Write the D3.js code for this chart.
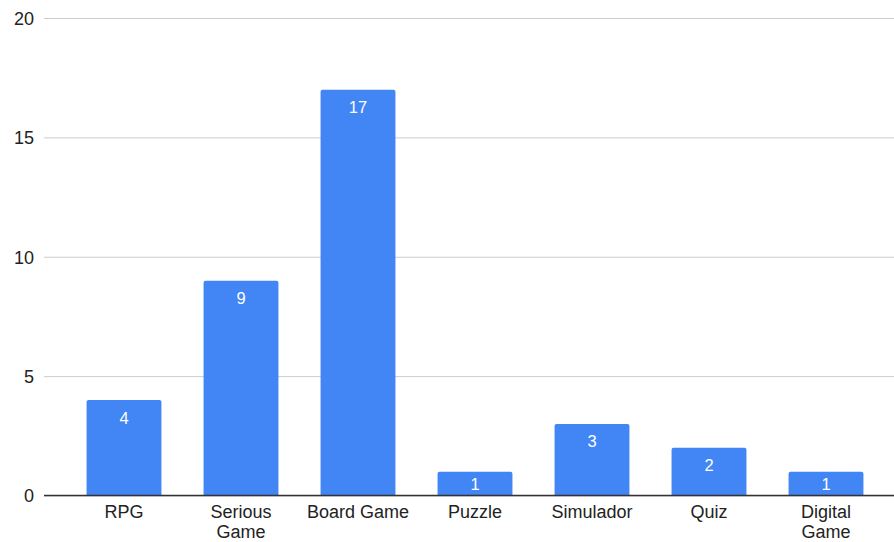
<!DOCTYPE html>
<html>
<head>
<meta charset="utf-8">
<script src="https://cdn.jsdelivr.net/npm/d3@7"></script>
<style>
  html, body { margin: 0; padding: 0; background: #fff; }
  svg { display: block; font-family: "Liberation Sans", Arial, sans-serif; }
</style>
</head>
<body>
<svg id="chart" width="894" height="542"></svg>
<script>
const categories = ["RPG", "Serious Game", "Board Game", "Puzzle", "Simulador", "Quiz", "Digital Game"];
const values = [4, 9, 17, 1, 3, 2, 1];
const yTicks = [0, 5, 10, 15, 20];

const svg = d3.select("#chart");
const gridLeft = 44, gridRight = 894;

const x = d3.scaleBand()
  .domain(categories)
  .range([65.5, 884.5])
  .paddingInner(0.36)
  .paddingOuter(0.18);

const y = d3.scaleLinear().domain([0, 20]).range([495.5, 18]);

// horizontal gridlines and y labels
const yAxis = d3.axisLeft(y)
  .tickValues(yTicks)
  .tickSize(-(gridRight - gridLeft))
  .tickPadding(10)
  .tickFormat(d3.format("d"));

const gy = svg.append("g")
  .attr("transform", `translate(${gridLeft},0)`)
  .call(yAxis);
gy.select(".domain").remove();
gy.selectAll(".tick line").attr("stroke", "#cccccc").attr("stroke-width", 1);
gy.selectAll(".tick text")
  .attr("fill", "#222")
  .style("font-size", "18px")
  .attr("dy", "0.35em");

// bars with slightly rounded top corners
const r = 2;
function barPath(d, i) {
  const x0 = x(categories[i]), w = x.bandwidth();
  const yt = y(d), yb = y(0);
  return `M${x0},${yb}V${yt + r}Q${x0},${yt} ${x0 + r},${yt}H${x0 + w - r}Q${x0 + w},${yt} ${x0 + w},${yt + r}V${yb}Z`;
}
svg.append("g").selectAll("path")
  .data(values)
  .join("path")
  .attr("d", barPath)
  .attr("fill", "#4285f4");

// value labels inside bars; short bars keep the label above the baseline
svg.append("g").selectAll("text")
  .data(values)
  .join("text")
  .attr("x", (d, i) => x(categories[i]) + x.bandwidth() / 2)
  .attr("y", d => Math.min(y(d) + 23.5, y(0) - 5.5))
  .attr("text-anchor", "middle")
  .attr("fill", "#ffffff")
  .style("font-size", "16.5px")
  .text(d => d);

// baseline
svg.append("line")
  .attr("x1", gridLeft).attr("x2", gridRight)
  .attr("y1", y(0)).attr("y2", y(0))
  .attr("stroke", "#333").attr("stroke-width", 1.3);

// category labels, wrapped to two lines where needed
const wrapped = {"Serious Game": ["Serious", "Game"], "Digital Game": ["Digital", "Game"]};
const xl = svg.append("g").selectAll("text")
  .data(categories)
  .join("text")
  .attr("x", d => x(d) + x.bandwidth() / 2)
  .attr("y", 518)
  .attr("text-anchor", "middle")
  .attr("fill", "#222")
  .style("font-size", "18px");
xl.each(function(d) {
  const lines = wrapped[d] || [d];
  const t = d3.select(this);
  lines.forEach((ln, k) => {
    t.append("tspan")
      .attr("x", x(d) + x.bandwidth() / 2)
      .attr("dy", k === 0 ? 0 : 20.2)
      .text(ln);
  });
});
</script>
</body>
</html>
